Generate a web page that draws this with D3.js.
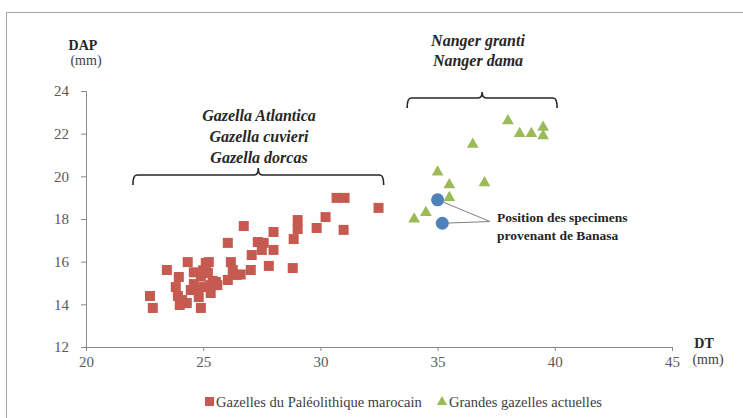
<!DOCTYPE html>
<html>
<head>
<meta charset="utf-8">
<script src="https://cdn.jsdelivr.net/npm/d3@7"></script>
<style>
  body { margin: 0; background: #fff; }
  .axis path, .axis line { stroke: #898989; }
  .axis text { fill: #595959; font-size: 15px; }
</style>
</head>
<body>
<script>
// Gazelles du Paléolithique marocain: [DT, DAP]
var paleoDT  = [22.73,22.85,23.45,24.34,23.96,23.83,23.92,24.0,24.3,24.47,24.6,24.81,24.9,25.11,25.2,25.03,25.32,25.54,25.24,24.68,25.4,
                26.05,26.18,26.26,26.05,26.43,26.73,27.03,27.07,27.33,27.5,27.58,27.8,28.0,28.0,28.82,28.86,29.03,29.03,29.84,30.22,30.69,31.03,30.99,32.48,
                24.9,24.6,25.0,25.3,24.1,26.6,25.6];
var paleoDAP = [14.39,13.83,15.61,15.98,15.28,14.81,14.39,13.97,14.06,14.67,14.95,14.34,13.83,15.94,15.47,14.81,14.53,15.05,15.98,14.67,15.1,
                16.88,15.98,15.61,15.14,15.38,17.67,15.61,16.31,16.92,16.55,16.88,15.8,17.39,16.55,15.7,17.06,17.95,17.53,17.58,18.09,18.99,18.99,17.49,18.52,
                15.3,15.5,15.6,14.9,14.2,15.4,14.9];

// Grandes gazelles actuelles
var actDT  = [34.0,34.5,35.0,35.5,35.5,36.5,37.0,38.0,38.5,39.0,39.5,39.5];
var actDAP = [18.0,18.3,20.2,19.6,19.0,21.5,19.7,22.6,22.0,22.0,22.3,21.9];

// Banasa specimens
var banDT  = [35.0,35.2];
var banDAP = [18.9,17.8];

var xTicks = [20,25,30,35,40,45];
var yTicks = [12,14,16,18,20,22,24];

var legendLabels = ["Gazelles du Paléolithique marocain", "Grandes gazelles actuelles"];

var serif = "'Liberation Serif', 'Times New Roman', serif";
var width = 743, height = 418;

var svg = d3.select("body").append("svg")
    .attr("width", width)
    .attr("height", height)
    .style("font-family", serif);

// outer frame
svg.append("rect")
    .attr("x", 6.5).attr("y", 12.5)
    .attr("width", 760).attr("height", 420)
    .attr("fill", "none")
    .attr("stroke", "#a6a6a6");

var x = d3.scaleLinear().domain([20, 45]).range([86, 672]);
var y = d3.scaleLinear().domain([12, 24]).range([347, 91]);

//axes
var xAxis = svg.append("g")
    .attr("class", "axis")
    .attr("transform", "translate(0," + y(12) + ")")
    .call(d3.axisBottom(x).tickValues(xTicks).tickSize(4).tickPadding(5));
xAxis.selectAll("text").style("font-family", serif);

var yAxis = svg.append("g")
    .attr("class", "axis")
    .attr("transform", "translate(" + x(20) + ",0)")
    .call(d3.axisLeft(y).tickValues(yTicks).tickSize(5).tickPadding(12));
yAxis.selectAll("text").style("font-family", serif);

// squares
svg.selectAll(".paleo")
    .data(paleoDT)
    .enter()
    .append("rect")
    .attr("class", "paleo")
    .attr("x", function(d){ return x(d) - 5; })
    .attr("y", function(d, i){ return y(paleoDAP[i]) - 5; })
    .attr("width", 10).attr("height", 10)
    .attr("fill", "#c65a50");

var tri = d3.symbol().type(d3.symbolTriangle).size(60);

svg.selectAll(".act")
    .data(actDT)
    .enter()
    .append("path")
    .attr("class", "act")
    .attr("d", tri)
    .attr("transform", function(d, i){ return "translate(" + x(d) + "," + y(actDAP[i]) + ")"; })
    .attr("fill", "#9bbb59");

// callout lines to Banasa text
var calloutX = 490, calloutY = 221.5;
svg.selectAll(".callout")
    .data(banDT)
    .enter()
    .append("line")
    .attr("x1", function(d){ return x(d); })
    .attr("y1", function(d, i){ return y(banDAP[i]); })
    .attr("x2", calloutX).attr("y2", calloutY)
    .attr("stroke", "#7f7f7f")
    .attr("stroke-width", 1);

svg.selectAll(".ban")
    .data(banDT)
    .enter()
    .append("circle")
    .attr("class", "ban")
    .attr("cx", function(d){ return x(d); })
    .attr("cy", function(d, i){ return y(banDAP[i]); })
    .attr("r", 6.5)
    .attr("fill", "#4f81bd");

function label(xp, yp, txt, size, weight, fill, anchor, italic){
    return svg.append("text").attr("x", xp).attr("y", yp)
        .attr("text-anchor", anchor || "start")
        .style("font-family", serif)
        .style("font-size", size + "px")
        .style("font-weight", weight)
        .style("font-style", italic ? "italic" : "normal")
        .attr("fill", fill)
        .text(txt);
}

label(497, 222, "Position des specimens", 13.5, "bold", "#262626");
label(497, 240, "provenant de Banasa", 13.5, "bold", "#262626");

// axis titles
label(83, 50, "DAP", 14, "bold", "#262626", "middle");
label(86, 65, "(mm)", 14, "normal", "#404040", "middle");
label(704, 348, "DT", 14, "bold", "#262626", "middle");
label(708, 364, "(mm)", 14, "normal", "#404040", "middle");

// group labels with braces
function brace(x0, x1, yLine, drop, tip){
    var xm = (x0 + x1) / 2;
    var p = "M" + x0 + "," + (yLine + drop) +
            " Q" + x0 + "," + yLine + " " + (x0 + 4) + "," + yLine +
            " L" + (xm - 4) + "," + yLine +
            " Q" + xm + "," + yLine + " " + xm + "," + (yLine - tip) +
            " Q" + xm + "," + yLine + " " + (xm + 4) + "," + yLine +
            " L" + (x1 - 4) + "," + yLine +
            " Q" + x1 + "," + yLine + " " + x1 + "," + (yLine + drop);
    svg.append("path").attr("d", p)
        .attr("fill", "none").attr("stroke", "#262626").attr("stroke-width", 1.6);
}
brace(x(22), x(32.7), 175, 10, 7);
brace(x(33.7), x(40.1), 98, 10, 6);

var gazLabels = ["Gazella Atlantica", "Gazella cuvieri", "Gazella dorcas"];
gazLabels.forEach(function(d, i){
    label(259, 121 + i * 21, d, 16, "bold", "#262626", "middle", true);
});

var nanLabels = ["Nanger granti", "Nanger dama"];
nanLabels.forEach(function(d, i){
    label(478, 46 + i * 20, d, 16, "bold", "#262626", "middle", true);
});

// legend
svg.append("rect").attr("x", 205).attr("y", 397).attr("width", 9).attr("height", 9).attr("fill", "#c65a50");
label(216, 407, legendLabels[0], 14.5, "normal", "#404040");
svg.append("path").attr("d", d3.symbol().type(d3.symbolTriangle).size(45))
    .attr("transform", "translate(442,402)").attr("fill", "#9bbb59");
label(449, 407, legendLabels[1], 14.5, "normal", "#404040");
</script>
</body>
</html>
